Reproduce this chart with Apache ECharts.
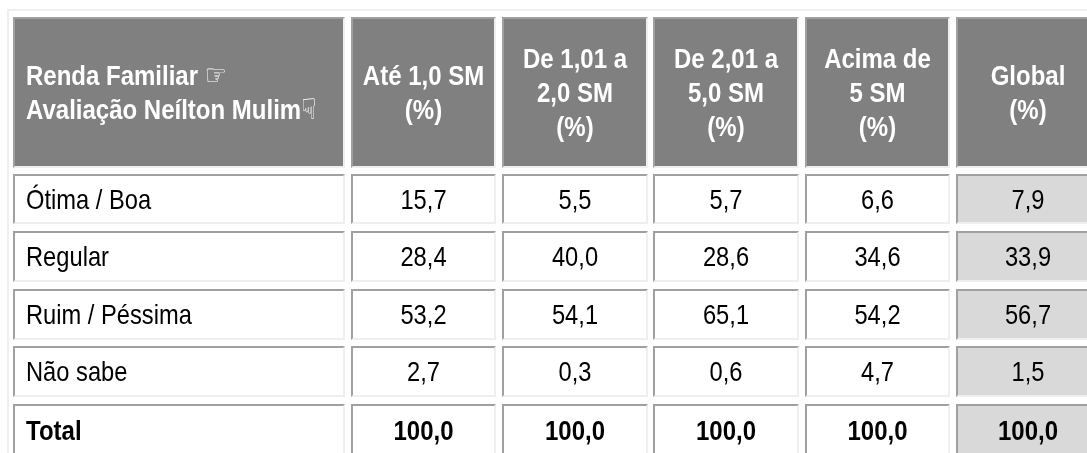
<!DOCTYPE html>
<html>
<head>
<meta charset="utf-8">
<title>Renda Familiar</title>
<script src="https://cdn.jsdelivr.net/npm/echarts@6/dist/echarts.min.js"></script>
<style>
  html, body { margin: 0; padding: 0; background: #fff; }
  #main { width: 1087px; height: 453px; }
</style>
</head>
<body>
<div id="main"></div>
<script>
const firstHeader = ["Renda Familiar {hand|\u261E}", "Avaliação Neílton Mulim{hand|\u261F}"];
const columnHeaders = ["Até 1,0 SM\n(%)", "De 1,01 a\n2,0 SM\n(%)", "De 2,01 a\n5,0 SM\n(%)", "Acima de\n5 SM\n(%)", "Global\n(%)"];
const rowLabels = ["Ótima / Boa", "Regular", "Ruim / Péssima", "Não sabe", "Total"];
const ate1 = [15.7, 28.4, 53.2, 2.7, 100.0];
const de1a2 = [5.5, 40.0, 54.1, 0.3, 100.0];
const de2a5 = [5.7, 28.6, 65.1, 0.6, 100.0];
const acima5 = [6.6, 34.6, 54.2, 4.7, 100.0];
const globalValues = [7.9, 33.9, 56.7, 1.5, 100.0];

// cell edges on the page, [start, end] with the 2px borders included
const colEdges = [[13, 345], [351, 496], [502, 648], [653, 799], [805, 950], [956, 1100]];
const rowEdges = [[17, 168], [174, 224], [231, 282], [289, 340], [346, 397], [404, 470]];

const FONT = "'Liberation Sans', Arial, 'DejaVu Sans', sans-serif";
const fmt = (v) => v.toFixed(1).replace(".", ",");

const cells = [];
cells.push([0, 0, firstHeader.join("\n")]);
columnHeaders.forEach((h, i) => cells.push([i + 1, 0, h]));
const columns = [ate1, de1a2, de2a5, acima5, globalValues];
rowLabels.forEach((label, r) => {
  cells.push([0, r + 1, label]);
  columns.forEach((col, c) => cells.push([c + 1, r + 1, fmt(col[r])]));
});

function renderCell(params, api) {
  const col = api.value(0);
  const row = api.value(1);
  const text = cells[params.dataIndex][2];
  const tl = api.coord([colEdges[col][0], rowEdges[row][0]]);
  const br = api.coord([colEdges[col][1], rowEdges[row][1]]);
  const [x, y] = tl;
  const w = br[0] - x;
  const h = br[1] - y;
  const isHeader = row === 0;
  const isTotal = row === 5;
  const fill = isHeader ? "#808080" : col === 5 ? "#d9d9d9" : "#ffffff";
  const left = col === 0;
  // row 5 runs off the page, its text sits in the visible part
  const textY = isTotal ? y + 28 : y + h / 2 + 2;
  return {
    type: "group",
    children: [
      { type: "rect", shape: { x, y, width: w, height: h }, style: { fill: "#a0a0a0" } },
      { type: "polygon", shape: { points: [[x + w, y], [x + w, y + h], [x, y + h], [x + 2, y + h - 2], [x + w - 2, y + h - 2], [x + w - 2, y + 2]] }, style: { fill: "#efefef" } },
      { type: "rect", shape: { x: x + 2, y: y + 2, width: w - 4, height: h - 4 }, style: { fill } },
      {
        type: "text",
        x: left ? x + 13 : x + w / 2,
        y: textY,
        scaleY: 1.15,
        style: {
          text,
          fill: isHeader ? "#ffffff" : "#000000",
          font: `${isHeader || isTotal ? "bold 24px" : "23.7px"} ${FONT}`,
          align: left ? "left" : "center",
          verticalAlign: "middle",
          lineHeight: 29.5,
          rich: { hand: { font: `normal 25px 'DejaVu Sans'`, fill: "#ffffff", lineHeight: 29.5 } },
        },
      },
    ],
  };
}

const chart = echarts.init(document.getElementById("main"), null, { renderer: "canvas" });
chart.setOption({
  animation: false,
  backgroundColor: "#ffffff",
  grid: { left: 0, right: 0, top: 0, bottom: 0 },
  xAxis: { type: "value", min: 0, max: 1087, show: false },
  yAxis: { type: "value", min: 0, max: 453, inverse: true, show: false },
  graphic: [
    { type: "rect", shape: { x: 7, y: 9, width: 1090, height: 2 }, style: { fill: "#efefef" } },
    { type: "rect", shape: { x: 7, y: 9, width: 2, height: 450 }, style: { fill: "#efefef" } },
  ],
  series: [{
    type: "custom",
    clip: false,
    renderItem: renderCell,
    encode: { x: 0, y: 1 },
    data: cells.map((c) => [c[0], c[1]]),
  }],
});
</script>
</body>
</html>
